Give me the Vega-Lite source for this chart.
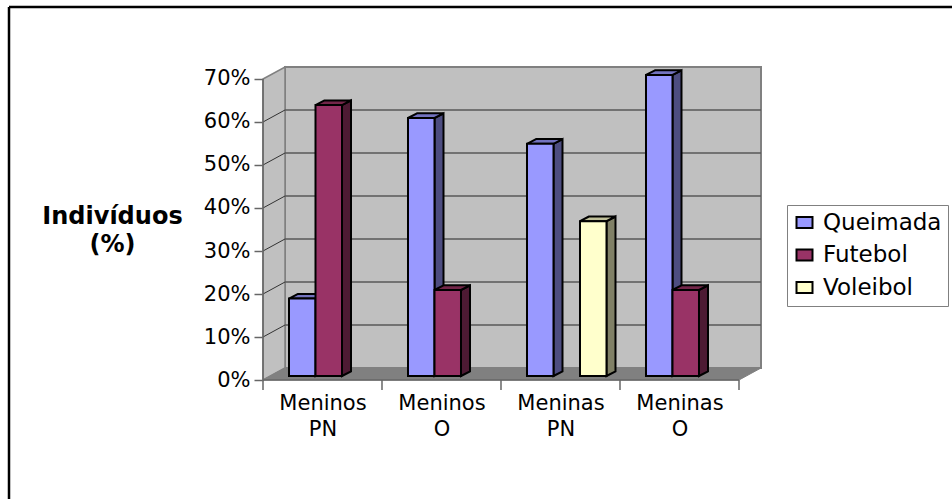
{
"$schema":"https://vega.github.io/schema/vega-lite/v6.json",
"width":943,"height":492,"autosize":"none","padding":{"left":9,"top":7,"right":0,"bottom":0},
"background":"white",
"config":{"view":{"stroke":null},"font":"DejaVu Sans"},
"datasets":{
"bars":[
{"category":"Meninos PN","series":"Queimada","value":18},
{"category":"Meninos PN","series":"Futebol","value":63},
{"category":"Meninos O","series":"Queimada","value":60},
{"category":"Meninos O","series":"Futebol","value":20},
{"category":"Meninas PN","series":"Queimada","value":54},
{"category":"Meninas PN","series":"Voleibol","value":36},
{"category":"Meninas O","series":"Queimada","value":70},
{"category":"Meninas O","series":"Futebol","value":20}],
"depth":[{"depth":0},{"depth":1}],
"grid":[{"v":10},{"v":20},{"v":30},{"v":40},{"v":50},{"v":60}],
"ticks":[{"t":0},{"t":1},{"t":2},{"t":3},{"t":4}],
"one":[{"k":1}]
},
"layer":[
{"data":{"name":"one"},"mark":{"type":"rect","fill":"#C0C0C0","stroke":"#808080","strokeWidth":2},
"encoding":{
"x":{"datum":0.1849,"type":"quantitative","scale":{"domain":[-2.1345,5.79],"nice":false,"zero":false},
"axis":{"values":[0.5,1.5,2.5,3.5],"title":null,"offset":-119,"domain":false,"ticks":false,"grid":false,"labelFontSize":21,"labelColor":"#000","labelPadding":12,"labelLineHeight":26,"labelBaseline":"top","labelFlush":false,"labelOverlap":false,"labelExpr":"split(['Meninos PN','Meninos O','Meninas PN','Meninas O'][floor(datum.value)],' ')"}},
"x2":{"datum":4.1849},
"y":{"datum":2.79,"type":"quantitative","scale":{"domain":[-27.67,86.74],"nice":false,"zero":false},
"axis":{"values":[0,10,20,30,40,50,60,70],"offset":-254,"domain":false,"grid":false,"tickSize":9,"tickColor":"#666666","tickWidth":1.5,"labelFontSize":21,"labelColor":"#000","labelPadding":4,"labelFlush":false,"labelOverlap":false,"labelExpr":"datum.value+'%'",
"title":["Indivíduos","(%)"],"titleAngle":0,"titleAlign":"center","titleBaseline":"alphabetic","titleFontSize":24,"titleFontWeight":"bold","titleColor":"#000","titleX":-151,"titleY":216,"titleLineHeight":28}},
"y2":{"datum":72.79}}},
{"data":{"name":"depth"},"transform":[{"calculate":"datum.depth*22/119","as":"xd"},{"calculate":"datum.depth*12/4.3","as":"yd"},{"calculate":"70+datum.yd","as":"yt"}],
"mark":{"type":"area","orient":"vertical","fill":"#C0C0C0","stroke":"#808080","strokeWidth":1.5},
"encoding":{"x":{"field":"xd","type":"quantitative"},"y":{"field":"yt","type":"quantitative"},"y2":{"field":"yd"}}},
{"data":{"name":"depth"},"transform":[{"calculate":"datum.depth*22/119","as":"xd"},{"calculate":"4+datum.xd","as":"xr"},{"calculate":"datum.depth*12/4.3","as":"yd"}],
"mark":{"type":"area","orient":"horizontal","fill":"#808080","stroke":"#808080"},
"encoding":{"y":{"field":"yd","type":"quantitative"},"x":{"field":"xd","type":"quantitative"},"x2":{"field":"xr"}}},
{"data":{"name":"grid"},"transform":[{"calculate":"datum.v+12/4.3","as":"vb"}],
"mark":{"type":"rule","stroke":"#595959","strokeWidth":1.5},
"encoding":{"x":{"datum":0.1849,"type":"quantitative"},"x2":{"datum":4.1849},"y":{"field":"vb","type":"quantitative"}}},
{"data":{"name":"grid"},"transform":[{"calculate":"datum.v+12/4.3","as":"vb"}],
"mark":{"type":"rule","stroke":"#333333","strokeWidth":1},
"encoding":{"x":{"datum":0,"type":"quantitative"},"x2":{"datum":0.1849},"y":{"field":"v","type":"quantitative"},"y2":{"field":"vb"}}},
{"data":{"name":"one"},"mark":{"type":"rule","stroke":"#666666","strokeWidth":1.5},
"encoding":{"x":{"datum":0,"type":"quantitative"},"y":{"datum":0,"type":"quantitative"},"y2":{"datum":70}}},
{"data":{"name":"one"},"mark":{"type":"rule","stroke":"#666666","strokeWidth":1.5},
"encoding":{"x":{"datum":0,"type":"quantitative"},"x2":{"datum":4},"y":{"datum":0,"type":"quantitative"}}},
{"data":{"name":"ticks"},"mark":{"type":"rule","stroke":"#666666","strokeWidth":1.5},
"encoding":{"x":{"field":"t","type":"quantitative"},"y":{"datum":0,"type":"quantitative"},"y2":{"datum":-2.3}}},
{"data":{"name":"one"},"mark":{"type":"rule","stroke":"#000000","strokeWidth":2.5},
"encoding":{"x":{"datum":-2.1345,"type":"quantitative"},"y":{"datum":-27.67,"type":"quantitative"},"y2":{"datum":86.74}}},
{"data":{"name":"one"},"mark":{"type":"rule","stroke":"#000000","strokeWidth":2.5},
"encoding":{"x":{"datum":-2.1345,"type":"quantitative"},"x2":{"datum":5.79},"y":{"datum":86.74,"type":"quantitative"}}},
{"data":{"name":"bars"},
"transform":[
{"calculate":"[0,1]","as":"depth"},{"flatten":["depth"]},
{"calculate":"indexof(['Meninos PN','Meninos O','Meninas PN','Meninas O'],datum.category)+(26+indexof(['Queimada','Futebol','Voleibol'],datum.series)*26.5+26.5)/119+datum.depth*9/119","as":"xs"},
{"calculate":"datum.depth*4.7/4.3+0.93","as":"yb"},
{"calculate":"datum.value+datum.yb","as":"yt"}],
"mark":{"type":"area","orient":"vertical","stroke":"#000000","strokeWidth":2},
"encoding":{"x":{"field":"xs","type":"quantitative"},"y":{"field":"yt","type":"quantitative","stack":null},"y2":{"field":"yb"},
"detail":{"field":"category"},
"fill":{"field":"series","type":"nominal","legend":null,"scale":{"domain":["Queimada","Futebol","Voleibol"],"range":["#4D4D80","#4D1A33","#808066"]}}}},
{"data":{"name":"bars"},
"transform":[
{"calculate":"[0,1]","as":"depth"},{"flatten":["depth"]},
{"calculate":"indexof(['Meninos PN','Meninos O','Meninas PN','Meninas O'],datum.category)+(26+indexof(['Queimada','Futebol','Voleibol'],datum.series)*26.5)/119+datum.depth*9/119","as":"xl"},
{"calculate":"datum.xl+26.5/119","as":"xr"},
{"calculate":"datum.value+0.93+datum.depth*4.7/4.3","as":"yt"}],
"mark":{"type":"area","orient":"horizontal","stroke":"#000000","strokeWidth":2},
"encoding":{"y":{"field":"yt","type":"quantitative"},"x":{"field":"xl","type":"quantitative","stack":null},"x2":{"field":"xr"},
"detail":{"field":"category"},
"fill":{"field":"series","type":"nominal","legend":null,"scale":{"domain":["Queimada","Futebol","Voleibol"],"range":["#7373BF","#732649","#BFBF99"]}}}},
{"data":{"name":"bars"},
"transform":[
{"calculate":"indexof(['Meninos PN','Meninos O','Meninas PN','Meninas O'],datum.category)+(26+indexof(['Queimada','Futebol','Voleibol'],datum.series)*26.5)/119","as":"xl"},
{"calculate":"datum.xl+26.5/119","as":"xr"},
{"calculate":"datum.value+0.93","as":"yt"},
{"calculate":"0.93","as":"yb"}],
"mark":{"type":"rect","stroke":"#000000","strokeWidth":2},
"encoding":{"x":{"field":"xl","type":"quantitative"},"x2":{"field":"xr"},"y":{"field":"yt","type":"quantitative"},"y2":{"field":"yb"},
"fill":{"field":"series","type":"nominal","scale":{"domain":["Queimada","Futebol","Voleibol"],"range":["#9999FF","#993366","#FFFFCC"]},
"legend":{"title":null,"orient":"none","legendX":778,"legendY":198,"padding":6,"strokeColor":"#808080","fillColor":"#FFFFFF","labelFontSize":23,"labelColor":"#000","labelOffset":7,"rowPadding":8.5,"symbolType":"M-1,-0.69H1V0.69H-1Z","symbolSize":256,"symbolStrokeColor":"#000000","symbolStrokeWidth":2,"symbolOpacity":1,"labelLimit":300}}}}
],
"resolve":{"scale":{"fill":"independent"}}
}
